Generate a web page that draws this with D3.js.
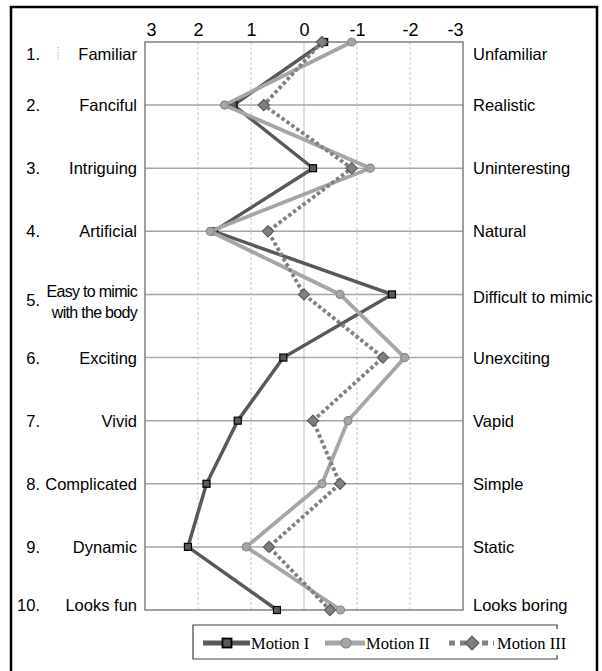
<!DOCTYPE html>
<html>
<head>
<meta charset="utf-8">
<script src="https://cdn.jsdelivr.net/npm/d3@7"></script>
<style>
  html, body { margin: 0; padding: 0; background: #fff; }
  svg { display: block; }
  .lab { font-family: "Liberation Sans", Arial, sans-serif; font-size: 16.5px; fill: #000; }
  .tick text { font-family: "Liberation Sans", Arial, sans-serif; font-size: 18px; fill: #000; }
  .leg { font-family: "Liberation Serif", "Times New Roman", serif; font-size: 16.5px; fill: #000; }
</style>
</head>
<body>
<svg id="chart" width="602" height="671"></svg>
<script>
// Semantic-differential items (left pole / right pole) and mean ratings per motion
const itemNumbers = ["1.", "2.", "3.", "4.", "5.", "6.", "7.", "8.", "9.", "10."];
const leftPoles = ["Familiar", "Fanciful", "Intriguing", "Artificial", ["Easy to mimic", "with the body"],
                   "Exciting", "Vivid", "Complicated", "Dynamic", "Looks fun"];
const rightPoles = ["Unfamiliar", "Realistic", "Uninteresting", "Natural", "Difficult to mimic",
                    "Unexciting", "Vapid", "Simple", "Static", "Looks boring"];
const scaleTicks = [3, 2, 1, 0, -1, -2, -3];

const motion1 = [-0.38, 1.33, -0.17, 1.70, -1.66, 0.39, 1.25, 1.84, 2.19, 0.51];
const motion2 = [-0.90, 1.50, -1.25, 1.77, -0.68, -1.90, -0.83, -0.34, 1.09, -0.69];
const motion3 = [-0.34, 0.76, -0.90, 0.68, 0.00, -1.49, -0.17, -0.68, 0.66, -0.49];

const seriesNames = ["Motion I", "Motion II", "Motion III"];

const svg = d3.select("#chart");

// outer frame
svg.append("path")
  .attr("d", "M11,671 V7 H597 V671")
  .attr("fill", "none").attr("stroke", "#000").attr("stroke-width", 2.5);

const x = d3.scaleLinear().domain([3, -3]).range([145, 463]);
const y = d3.scalePoint().domain(d3.range(itemNumbers.length)).range([42, 610]);

// label baseline: first and last rows sit inside the plot edges
const last = itemNumbers.length - 1;
function labelY(i, isNumber) {
  if (i === 0) return y(i) + 18;
  if (i === last) return y(i) + 1;
  if (i === 4) return y(i) + (isNumber ? 12 : 9);
  return y(i) + 6;
}

const plot = svg.append("g");

// vertical grid: solid at zero, dashed elsewhere
plot.selectAll("line.vgrid")
  .data(scaleTicks.filter(t => Math.abs(t) < 3))
  .join("line")
  .attr("x1", d => x(d)).attr("x2", d => x(d))
  .attr("y1", y(0)).attr("y2", y(last))
  .attr("stroke", d => d === 0 ? "#c0c0c0" : "#c8c8c8")
  .attr("stroke-width", 1)
  .attr("stroke-dasharray", d => d === 0 ? null : "3,2");

// horizontal grid at each item
plot.selectAll("line.hgrid")
  .data(d3.range(1, last))
  .join("line")
  .attr("x1", x(3)).attr("x2", x(-3))
  .attr("y1", d => y(d)).attr("y2", d => y(d))
  .attr("stroke", "#a6a6a6").attr("stroke-width", 1.5);

// plot border
plot.append("rect")
  .attr("x", x(3)).attr("y", y(0))
  .attr("width", x(-3) - x(3)).attr("height", y(last) - y(0))
  .attr("fill", "none").attr("stroke", "#808080").attr("stroke-width", 1.5);

// top scale (plain hyphen-minus for negatives)
const axis = svg.append("g")
  .attr("transform", `translate(0,${y(0) - 6})`)
  .call(d3.axisTop(x).tickValues(scaleTicks).tickSize(0).tickPadding(0).tickFormat(d => String(d)));
axis.select(".domain").remove();
axis.selectAll(".tick text")
  .attr("text-anchor", d => d === 3 ? "start" : d === -3 ? "end" : "middle")
  .attr("x", d => d === 3 ? 1 : 0)
  .attr("dy", 0);

// left labels: item number + left pole
const left = svg.append("g");
left.selectAll("text.num")
  .data(itemNumbers)
  .join("text")
  .attr("class", "lab")
  .attr("x", 40).attr("text-anchor", "end")
  .attr("y", (d, i) => labelY(i, true))
  .text(d => d);

leftPoles.forEach((lab, i) => {
  if (Array.isArray(lab)) {
    const t = left.append("text").attr("class", "lab")
      .attr("text-anchor", "end")
      .style("font-size", "16px").style("letter-spacing", "-0.7px");
    lab.forEach((line, k) => {
      t.append("tspan").attr("x", 137).attr("y", y(i) + 3 + k * 21).text(line);
    });
  } else {
    left.append("text").attr("class", "lab")
      .attr("x", 137).attr("y", labelY(i, false))
      .attr("text-anchor", "end").text(lab);
  }
});

// right labels
svg.append("g").selectAll("text")
  .data(rightPoles)
  .join("text")
  .attr("class", "lab")
  .attr("x", 473).attr("y", (d, i) => labelY(i, false))
  .text(d => d);

// small text-box mark beside first row
svg.append("line").attr("x1", 58).attr("x2", 58).attr("y1", 47).attr("y2", 60)
  .attr("stroke", "#999").attr("stroke-width", 1).attr("stroke-dasharray", "1,1.5");

// series
const styles = [
  { data: motion1, stroke: "#595959", width: 3.5, dash: null, marker: "square", fill: "#5a5a5a", mstroke: "#000" },
  { data: motion2, stroke: "#a6a6a6", width: 3.8, dash: null, marker: "circle", fill: "#a6a6a6", mstroke: "#888" },
  { data: motion3, stroke: "#808080", width: 3.8, dash: "3.5,2.5", marker: "diamond", fill: "#808080", mstroke: "#5a5a5a" }
];

const line = d3.line().x(d => x(d.v)).y(d => y(d.i));

function drawMarker(g, type, cx, cy, s, fill, stroke, sw) {
  if (type === "square") {
    g.append("rect").attr("x", cx - s / 2).attr("y", cy - s / 2).attr("width", s).attr("height", s)
      .attr("fill", fill).attr("stroke", stroke).attr("stroke-width", sw);
  } else if (type === "circle") {
    g.append("circle").attr("cx", cx).attr("cy", cy).attr("r", s / 2)
      .attr("fill", fill).attr("stroke", stroke).attr("stroke-width", sw);
  } else {
    const h = s * 0.62;
    g.append("path").attr("d", `M${cx},${cy - h}L${cx + h},${cy}L${cx},${cy + h}L${cx - h},${cy}Z`)
      .attr("fill", fill).attr("stroke", stroke).attr("stroke-width", sw);
  }
}

styles.forEach(st => {
  const pts = st.data.map((v, i) => ({ v, i }));
  const g = svg.append("g");
  g.append("path").datum(pts).attr("d", line)
    .attr("fill", "none").attr("stroke", st.stroke).attr("stroke-width", st.width)
    .attr("stroke-dasharray", st.dash).attr("stroke-linejoin", "miter");
  pts.forEach(p => drawMarker(g, st.marker, x(p.v), y(p.i),
    st.marker === "square" ? 7 : st.marker === "circle" ? 8 : 9, st.fill, st.mstroke, 1.2));
});

// legend
const lg = svg.append("g");
lg.append("path")
  .attr("d", "M557,629 V625 H193 V659 H557 V655")
  .attr("fill", "none").attr("stroke", "#404040").attr("stroke-width", 1.2);

const legItems = [
  { x0: 203, x1: 250, mx: 227, tx: 251 },
  { x0: 325, x1: 365, mx: 346, tx: 366 },
  { x0: 449, x1: 494, mx: 472, tx: 497 }
];
legItems.forEach((it, k) => {
  const st = styles[k];
  const ly = 643;
  lg.append("line").attr("x1", it.x0).attr("x2", it.x1).attr("y1", ly).attr("y2", ly)
    .attr("stroke", st.stroke).attr("stroke-width", 5)
    .attr("stroke-dasharray", st.dash ? "6,5" : null);
  drawMarker(lg, st.marker, it.mx, ly, st.marker === "square" ? 9 : st.marker === "circle" ? 10 : 11,
    st.fill, st.mstroke, st.marker === "square" ? 1.8 : 1.2);
  lg.append("text").attr("class", "leg").attr("x", it.tx).attr("y", ly + 6).text(seriesNames[k]);
});
</script>
</body>
</html>
